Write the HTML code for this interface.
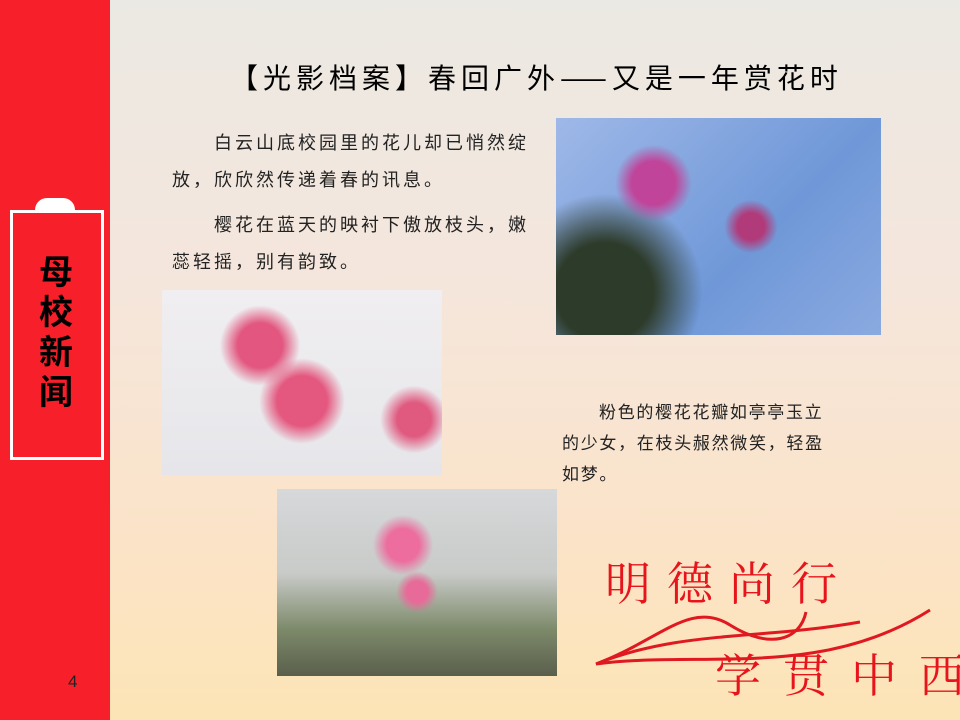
<!DOCTYPE html>
<html><head><meta charset="utf-8"><style>
body{margin:0;width:960px;height:720px;overflow:hidden;font-family:"Liberation Sans","Noto Sans CJK SC",sans-serif;}
#slide{position:relative;width:960px;height:720px;overflow:hidden;background:linear-gradient(#ebe9e3 0%,#f5e6dc 40%,#fbe3c8 75%,#fde4b6 100%);}
.abs{position:absolute;}
p{margin:0}
.txt{font-size:18px;letter-spacing:3px;line-height:37px;color:#222;font-family:"Noto Sans CJK SC",sans-serif;}
</style></head><body>
<div id="slide">
 <div class="abs" style="left:0;top:0;width:110px;height:720px;background:#f7202a;"></div>
 <div class="abs" style="left:10px;top:210px;width:94px;height:250px;border:3px solid #fff;box-sizing:border-box;"></div>
 <div class="abs" style="left:35px;top:198px;width:40px;height:12px;background:#fff;border-radius:14px 14px 0 0;"></div>
 <div class="abs" style="left:30px;top:250px;width:52px;font-size:34px;font-weight:bold;line-height:40px;text-align:center;color:#000;font-family:'Noto Sans CJK SC',sans-serif;">母<br>校<br>新<br>闻</div>
 <div class="abs" style="left:68px;top:672px;font-size:17px;color:#222;">4</div>
 <div class="abs" style="left:230px;top:57px;font-size:28px;letter-spacing:5px;color:#000;font-family:'Noto Sans CJK SC',sans-serif;white-space:nowrap;">【光影档案】春回广外——又是一年赏花时</div>
 <div class="abs txt" style="left:172px;top:124px;width:362px;"><p style="text-indent:42px">白云山底校园里的花儿却已悄然绽放，欣欣然传递着春的讯息。</p><p style="text-indent:42px;margin-top:8px">樱花在蓝天的映衬下傲放枝头，嫩蕊轻摇，别有韵致。</p></div>
 <div class="abs txt" style="left:562px;top:395px;width:268px;font-size:17px;letter-spacing:1.7px;line-height:31px;"><p style="text-indent:37px">粉色的樱花花瓣如亭亭玉立的少女，在枝头赧然微笑，轻盈如梦。</p></div>
 <div class="abs" style="left:556px;top:118px;width:325px;height:217px;background:radial-gradient(circle at 30% 30%,#c0459a 0 8%,transparent 14%),radial-gradient(circle at 60% 50%,#b13a7a 0 6%,transparent 12%),radial-gradient(circle at 15% 80%,#2d3b2a 0 15%,transparent 30%),linear-gradient(135deg,#9fb8e8,#6f98d8 60%,#8aa9e0);"></div>
 <div class="abs" style="left:162px;top:290px;width:280px;height:185px;background:radial-gradient(circle at 35% 30%,#e2567f 0 10%,transparent 18%),radial-gradient(circle at 50% 60%,#e4587f 0 14%,transparent 24%),radial-gradient(circle at 90% 70%,#e05a80 0 6%,transparent 12%),linear-gradient(#f0eef0,#e6e6ea);"></div>
 <div class="abs" style="left:277px;top:489px;width:280px;height:187px;background:radial-gradient(circle at 45% 30%,#ec6d9e 0 8%,transparent 15%),radial-gradient(circle at 50% 55%,#e76a98 0 6%,transparent 12%),linear-gradient(#d6d8da 0%,#c9cbc9 45%,#7d8a6a 75%,#5a5f4c 100%);"></div>
 <div class="abs" style="left:605px;top:548px;font-size:46px;letter-spacing:16px;color:#e8141c;font-family:'Noto Serif CJK SC',serif;white-space:nowrap;">明德尚行</div>
 <div class="abs" style="left:715px;top:640px;font-size:46px;letter-spacing:22px;color:#e8141c;font-family:'Noto Serif CJK SC',serif;white-space:nowrap;">学贯中西</div>
 <svg class="abs" style="left:0;top:0" width="960" height="720"><g fill="none" stroke="#e01820" stroke-width="3">
  <path d="M596 664 C660 640,690 600,730 625 S800 640,806 612"/>
  <path d="M596 664 C680 630,760 640,860 622"/>
  <path d="M596 664 C700 650,820 680,930 610"/>
 </g></svg>
</div>
</body></html>
